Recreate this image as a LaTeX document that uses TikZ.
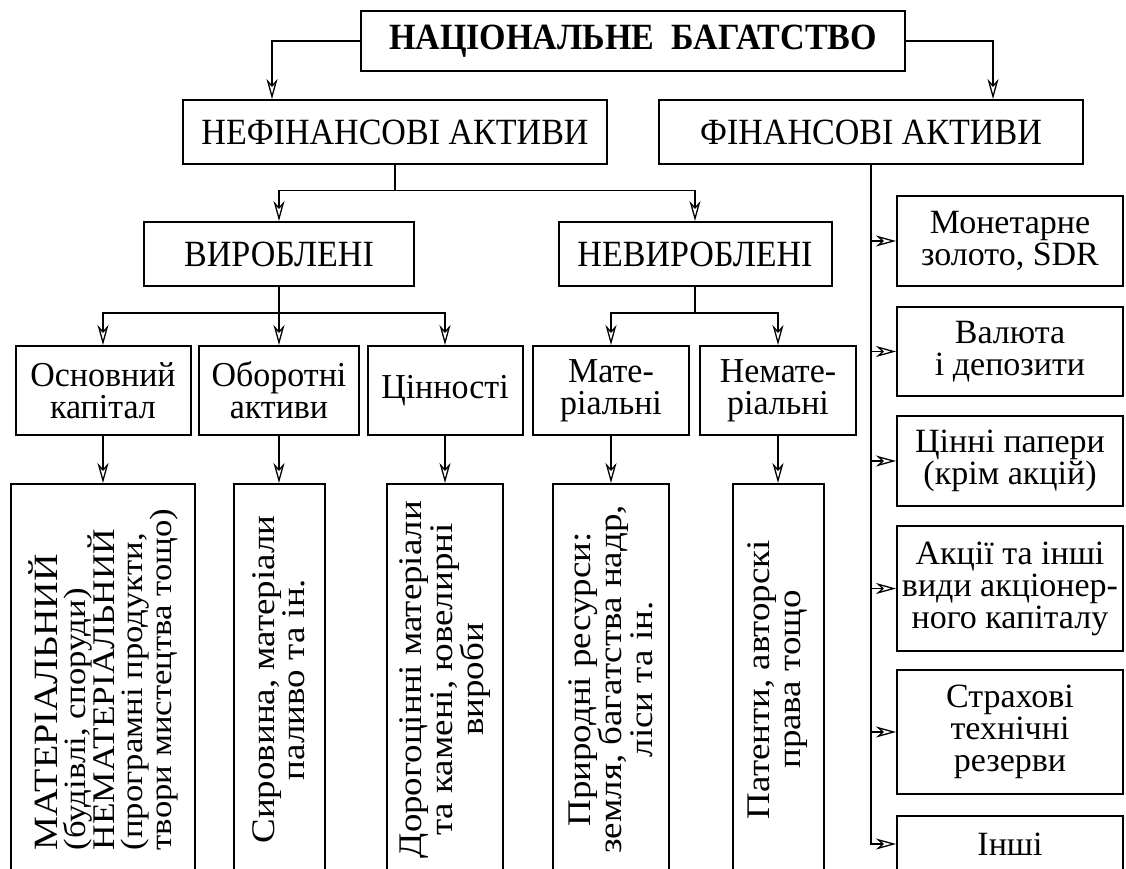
\documentclass[tikz,border=0pt]{standalone}
\usepackage{fontspec}
\setmainfont{Liberation Serif}
\newfontfamily\narrowfont{Liberation Serif}[FakeStretch=0.92]
\newfontfamily\slimfont{Liberation Serif}[FakeStretch=0.97]
\newfontfamily\widefont{Liberation Serif}[FakeStretch=1.12]
\usetikzlibrary{arrows.meta}
% lines turned to read from bottom to top, with a fixed distance between baselines
% (#1 = baseline distance, #2 = lines separated by \cr)
\newcommand{\upc}[2]{\rotatebox{90}{\vbox{\baselineskip=#1\lineskiplimit=-100pt
  \halign{\hfil##\hfil\cr#2\crcr}}}}
\newcommand{\upl}[2]{\rotatebox{90}{\vbox{\baselineskip=#1\lineskiplimit=-100pt
  \halign{##\hfil\cr#2\crcr}}}}
\begin{document}
\begin{tikzpicture}[x=1pt, y=-1pt,
  box/.style={draw, line width=2pt, inner sep=0pt, align=center,
    font=\slimfont\fontsize{35}{32}\selectfont},
  headbox/.style={box, font=\narrowfont\fontsize{37}{37}\selectfont},
  tallbox/.style={box, minimum height=391pt, font=\widefont\fontsize{33}{31}\selectfont},
  sidebox/.style={box, minimum width=226pt, font=\fontsize{34}{32}\selectfont},
  conn/.style={line width=1.3pt},
  arr/.style={conn, -{Stealth[open, length=20pt, width=11pt, inset=6pt]}}]
\useasboundingbox (0,0) rectangle (1126,868);

% top level
\node[headbox, line width=1.5pt, minimum width=544pt, minimum height=60pt,
  font=\narrowfont\bfseries\fontsize{37}{37}\selectfont] (title) at (633,41)
  {НАЦІОНАЛЬНЕ\ \ БАГАТСТВО};

% second level
\node[headbox, minimum width=424pt, minimum height=64pt] (nef) at (395,132) {НЕФІНАНСОВІ АКТИВИ};
\node[headbox, minimum width=424pt, minimum height=64pt] (fin) at (871,132) {ФІНАНСОВІ АКТИВИ};

% third level
\node[headbox, minimum width=270pt, minimum height=64pt] (vyr) at (279,254) {ВИРОБЛЕНІ};
\node[headbox, minimum width=273pt, minimum height=64pt] (nevyr) at (695,254) {НЕВИРОБЛЕНІ};

% fourth level
\node[box, minimum width=175pt, minimum height=89pt] (osn) at (103,390.5) {Основний\\капітал};
\node[box, minimum width=160pt, minimum height=89pt] (obor) at (279,390.5) {Оборотні\\активи};
\node[box, minimum width=155pt, minimum height=89pt] (tsin) at (445,390.5) {Цінності};
\node[box, minimum width=156pt, minimum height=89pt] (mat) at (611,390.5) {Мате-\\ріальні};
\node[box, minimum width=156pt, minimum height=89pt] (nemat) at (778,390.5) {Немате-\\ріальні};

% fifth level, vertical text
\node[tallbox, minimum width=184pt, font=\widefont\fontsize{31}{28.5}\selectfont] (osnd) at (103,679.5)
  {\upl{28.5pt}{{\fontsize{34}{28.5}\selectfont МАТЕРІАЛЬНИЙ}\cr
    (будівлі, споруди)\cr
    {\fontsize{31.5}{28.5}\selectfont НЕМАТЕРІАЛЬНИЙ}\cr
    (програмні продукти,\cr
    твори мистецтва тощо)}};
\node[tallbox, minimum width=91pt] (obord) at (279,679.5)
  {\upc{30pt}{Сировина, матеріали\cr паливо та ін.}};
\node[tallbox, minimum width=116pt] (tsind) at (445,679.5)
  {\upc{31pt}{Дорогоцінні матеріали\cr та камені, ювелирні\cr вироби}};
\node[tallbox, minimum width=116pt] (matd) at (611,679.5)
  {\upc{31pt}{Природні ресурси:\cr земля, багатства надр,\cr ліси та ін.}};
\node[tallbox, minimum width=91pt] (nematd) at (778,679.5)
  {\upc{31pt}{Патенти, авторскі\cr права тощо}};

% financial assets column
\node[sidebox, minimum height=90pt] (r1) at (1010,241) {Монетарне\\золото, SDR};
\node[sidebox, minimum height=89pt] (r2) at (1010,351.5) {Валюта\\і депозити};
\node[sidebox, minimum height=90pt] (r3) at (1010,461) {Цінні папери\\(крім акцій)};
\node[sidebox, minimum height=125pt] (r4) at (1010,588.5) {Акції та інші\\види акціонер-\\ного капіталу};
\node[sidebox, minimum height=124pt] (r5) at (1010,732) {Страхові\\технічні\\резерви};
\node[sidebox, minimum height=56pt, anchor=north] (r6) at (1010,815) {Інші};

% connectors
\coordinate (jl) at (272,0);
\coordinate (jr) at (993,0);
\draw[arr] (title.west) -| (jl |- nef.north);
\draw[arr] (title.east) -| (jr |- fin.north);

\draw[arr] (nef.south) -- ++(0,25.5) -| (vyr.north);
\draw[arr] (nef.south) -- ++(0,25.5) -| (nevyr.north);

\draw[arr] (vyr.south) -- ++(0,26) -| (osn.north);
\draw[arr] (vyr.south) -- (obor.north);
\draw[arr] (vyr.south) -- ++(0,26) -| (tsin.north);
\draw[arr] (nevyr.south) -- ++(0,26) -| (mat.north);
\draw[arr] (nevyr.south) -- ++(0,26) -| (nemat.north);

\draw[arr] (osn.south) -- (osnd.north);
\draw[arr] (obor.south) -- (obord.north);
\draw[arr] (tsin.south) -- (tsind.north);
\draw[arr] (mat.south) -- (matd.north);
\draw[arr] (nemat.south) -- (nematd.north);

\draw[arr] (fin.south) |- (r6.west);
\foreach \r in {r1,r2,r3,r4,r5}
  \draw[arr] (fin.south |- \r.west) -- (\r.west);
\end{tikzpicture}
\end{document}
